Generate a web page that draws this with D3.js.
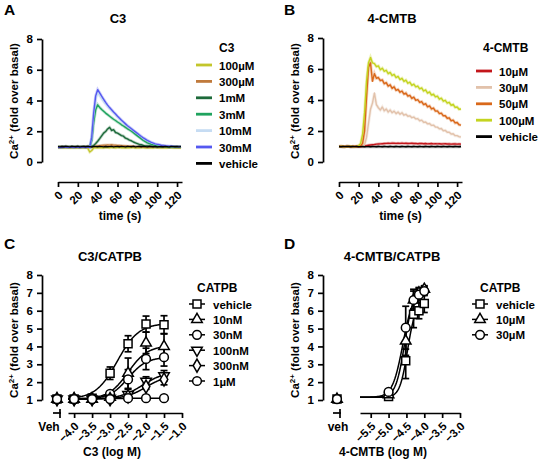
<!DOCTYPE html>
<html><head><meta charset="utf-8">
<script src="https://cdn.jsdelivr.net/npm/d3@7"></script>
<style>
body{margin:0;background:#fff;}
text{font-family:"Liberation Sans",Arial,sans-serif;font-weight:bold;fill:#000;}
</style></head>
<body><svg id="c" width="540" height="463"></svg>
<script>
// ---------- Panel A data (time course, C3) ----------
const timeA = d3.range(0, 125, 2);
const aVehicle = [1.00,0.98,1.01,0.99,1.02,1.00,0.98,1.01,1.00,0.99, 1.02,0.98,1.00,1.01,0.99,1.02,1.00,0.98,1.01,1.00, 0.99,1.02,1.00,0.98,1.01,0.99,1.00,1.02,0.98,1.00, 1.01,0.99,1.02,1.00,0.98,1.01,1.00,0.99,1.02,0.98, 1.00,1.01,0.99,1.02,1.00,0.98,1.01,1.00,0.99,1.02, 0.98,1.00,1.01,0.99,1.02,1.00,0.98,1.01,1.00,0.99, 1.00,0.98,1.00];
const a100uM = [0.93,0.92,0.94,0.93,0.92,0.94,0.93,0.92,0.94,0.93, 0.92,0.94,0.93,0.92,0.94,0.90,0.65,0.75,0.92,0.94, 0.93,0.92,0.94,0.93,0.95,0.94,0.93,0.95,0.94,0.93, 0.94,0.95,0.93,0.94,0.92,0.94,0.93,0.95,0.94,0.93, 0.94,0.93,0.95,0.94,0.93,0.94,0.92,0.94,0.93,0.95, 0.94,0.93,0.94,0.92,0.94,0.93,0.95,0.94,0.93,0.94, 0.93,0.94,0.93];
const a300uM = [0.98,0.99,0.97,0.98,0.99,0.98,0.97,0.99,0.98,0.99, 0.98,0.97,0.99,0.98,0.99,0.98,0.99,1.00,1.01,1.03, 1.05,1.06,1.08,1.09,1.10,1.11,1.10,1.12,1.10,1.09, 1.08,1.07,1.06,1.05,1.04,1.03,1.02,1.02,1.01,1.00, 1.00,0.99,1.00,0.99,0.98,0.99,0.98,0.99,0.98,0.99, 0.98,0.99,0.98,0.97,0.98,0.99,0.98,0.97,0.98,0.99, 0.98,0.97,0.98];
const a1mM = [0.97,0.98,0.97,0.99,0.98,0.97,0.98,0.99,0.97,0.98, 0.98,0.97,0.99,0.98,0.97,0.98,0.99,1.00,1.08,1.20, 1.35,1.52,1.70,1.88,1.98,2.15,2.25,2.05,2.10,1.92, 1.88,1.80,1.72,1.68,1.55,1.50,1.42,1.38,1.30,1.25, 1.20,1.15,1.12,1.08,1.05,1.04,1.02,1.01,1.00,0.99, 1.00,0.99,0.98,0.99,1.00,0.98,0.99,0.98,0.99,0.98, 0.99,0.98,0.99];
const a3mM = [0.96,0.97,0.96,0.98,0.97,0.96,0.97,0.98,0.96,0.97, 0.97,0.96,0.98,0.97,0.96,0.97,0.98,1.40,2.60,3.40, 3.72,3.55,3.42,3.30,3.18,3.08,2.98,2.88,2.78,2.70, 2.60,2.52,2.42,2.34,2.25,2.16,2.08,2.00,1.90,1.80, 1.70,1.60,1.50,1.40,1.32,1.25,1.20,1.15,1.11,1.08, 1.06,1.04,1.03,1.02,1.01,1.00,0.99,1.00,0.99,0.98, 0.99,0.98,0.99];
const a10mM = [0.95,0.96,0.95,0.97,0.96,0.95,0.96,0.97,0.95,0.96, 0.96,0.95,0.97,0.96,0.95,0.96,0.97,1.50,3.00,4.10, 4.50,4.30,4.10,3.92,3.75,3.60,3.45,3.32,3.18,3.05, 2.92,2.80,2.68,2.56,2.45,2.34,2.24,2.14,2.04,1.94, 1.84,1.74,1.64,1.55,1.47,1.40,1.33,1.27,1.22,1.18, 1.14,1.11,1.08,1.06,1.04,1.03,1.02,1.01,1.00,1.00, 0.99,1.00,0.99];
const a30mM = [0.94,0.95,0.94,0.96,0.95,0.94,0.95,0.96,0.94,0.95, 0.95,0.94,0.96,0.95,0.94,0.95,0.96,1.60,3.20,4.30, 4.70,4.50,4.28,4.08,3.88,3.70,3.54,3.40,3.25,3.12, 2.98,2.85,2.72,2.60,2.48,2.36,2.26,2.16,2.06,1.96, 1.86,1.76,1.66,1.57,1.49,1.41,1.34,1.28,1.23,1.18, 1.15,1.12,1.09,1.07,1.05,1.04,1.03,1.02,1.01,1.00, 1.00,0.99,1.00];
const labelsA = ["100µM","300µM","1mM","3mM","10mM","30mM","vehicle"];
const colorsA = ["#c3c62b","#c07a3c","#1d6a3a","#1fa35e","#c6dcf3","#5558f0","#000000"];

// ---------- Panel B data (time course, 4-CMTB) ----------
const timeB = d3.range(0, 125, 2);
const b10uM = [1.00,1.01,0.99,1.00,1.01,1.00,0.99,1.01,1.00,1.00, 1.01,1.00,1.02,1.04,1.06,1.08,1.10,1.12,1.13,1.15, 1.16,1.17,1.18,1.19,1.20,1.21,1.20,1.22,1.21,1.20, 1.21,1.20,1.22,1.20,1.21,1.19,1.20,1.21,1.19,1.20, 1.18,1.19,1.20,1.18,1.19,1.17,1.18,1.19,1.17,1.18, 1.17,1.18,1.16,1.17,1.18,1.16,1.17,1.15,1.16,1.17, 1.15,1.16,1.15];
const b30uM = [1.00,1.01,0.99,1.00,1.01,1.00,0.99,1.00,1.01,1.00, 1.00,1.01,1.03,1.10,1.60,2.50,3.40,3.80,4.45,3.70, 3.50,3.35,3.55,3.30,3.42,3.22,3.35,3.18,3.28,3.12, 3.22,3.08,3.18,3.02,3.08,2.95,2.98,2.86,2.90,2.78, 2.80,2.66,2.70,2.56,2.58,2.46,2.48,2.36,2.38,2.26, 2.25,2.14,2.16,2.02,2.04,1.92,1.92,1.80,1.82,1.70, 1.70,1.63,1.62];
const b50uM = [1.00,1.00,1.01,0.99,1.00,1.01,1.00,0.99,1.00,1.01, 1.00,1.03,1.20,2.00,4.20,6.10,6.40,5.20,5.70,5.40, 5.45,5.25,5.30,5.05,5.12,4.90,4.98,4.75,4.85,4.62, 4.68,4.50,4.58,4.38,4.45,4.25,4.30,4.10,4.18,3.98, 4.02,3.85,3.90,3.70,3.76,3.56,3.62,3.42,3.48,3.28, 3.30,3.12,3.15,2.98,2.98,2.82,2.85,2.66,2.70,2.52, 2.55,2.40,2.38];
const b100uM = [1.00,1.01,1.00,0.99,1.00,1.01,1.00,1.00,0.99,1.01, 1.05,1.20,1.80,3.20,5.20,6.40,6.75,6.40,6.35,6.15, 6.20,5.95,6.05,5.85,5.92,5.70,5.78,5.58,5.65,5.45, 5.52,5.32,5.40,5.20,5.28,5.08,5.15,4.95,5.02,4.85, 4.90,4.72,4.78,4.58,4.65,4.45,4.52,4.32,4.38,4.20, 4.25,4.05,4.12,3.92,3.98,3.80,3.85,3.66,3.72,3.52, 3.55,3.40,3.42];
const bVehicle = [1.00,0.98,1.00,0.99,1.01,1.00,0.98,1.00,0.99,1.00, 0.98,0.99,1.00,0.98,0.99,1.00,0.98,1.00,0.99,0.98, 1.00,0.99,0.98,1.00,0.99,0.98,1.00,0.99,0.98,1.00, 0.99,0.98,1.00,0.99,0.98,1.00,0.99,0.98,1.00,0.99, 0.98,1.00,0.99,0.98,1.00,0.99,0.98,1.00,0.99,0.98, 1.00,0.99,0.98,1.00,0.99,0.98,1.00,0.99,0.98,1.00, 0.99,0.98,1.00];
const labelsB = ["10µM","30µM","50µM","100µM","vehicle"];
const colorsB = ["#c3161b","#e2c2ab","#d9681a","#c4d420","#000000"];

const timeTicks = [0,20,40,60,80,100,120];

// ---------- Panel C data (concentration response, C3 with CATPB) ----------
const logC3 = [-4.0,-3.5,-3.0,-2.5,-2.0,-1.5];
const cVehicle = [1.05,1.10,2.50,4.15,5.25,5.22];
const cVehicleErr = [0.05,0.05,0.35,0.45,0.45,0.50];
const c10nM = [1.05,1.05,1.15,2.50,4.20,4.00];
const c10nMErr = [0.05,0.05,0.10,0.85,0.60,0.70];
const c30nM = [1.05,1.05,1.35,2.15,3.30,3.40];
const c30nMErr = [0.05,0.05,0.10,0.55,0.60,0.50];
const c100nM = [1.05,1.05,1.10,1.30,2.05,2.35];
const c100nMErr = [0.05,0.05,0.05,0.15,0.25,0.30];
const c300nM = [1.05,1.05,1.05,1.20,1.75,2.15];
const c300nMErr = [0.05,0.05,0.05,0.10,0.15,0.30];
const c1uM = [1.05,1.05,1.05,1.10,1.10,1.10];
const c1uMErr = [0.03,0.03,0.03,0.03,0.03,0.03];
const cVehPoint = [1.05,1.05,1.05,1.05,1.05,1.05];
// fitted curve parameters: bottom, top, logEC50, hill
const cFitBottom = [1.05,1.05,1.05,1.05,1.05,1.08];
const cFitTop = [5.30,4.05,3.40,2.60,2.40,1.10];
const cFitEC50 = [-2.80,-2.50,-2.50,-2.10,-2.00,-2.50];
const cFitHill = [1.45,1.60,1.70,1.40,1.50,1.00];
const labelsC = ["vehicle","10nM","30nM","100nM","300nM","1µM"];
const cTicksX = [-4.0,-3.5,-3.0,-2.5,-2.0,-1.5,-1.0];

// ---------- Panel D data (concentration response, 4-CMTB with CATPB) ----------
const logCMTB = [-5.0,-4.52,-4.3,-4.15,-4.0];
const dVehicle = [1.20,3.20,5.80,6.00,6.40];
const dVehicleErr = [0.10,1.00,0.75,0.45,0.50];
const d10uM = [1.30,4.30,6.60,7.00,7.20];
const d10uMErr = [0.10,0.80,0.50,0.30,0.20];
const d30uM = [1.45,5.05,6.60,6.90,7.10];
const d30uMErr = [0.10,1.20,0.60,0.35,0.25];
const dVehPoint = [1.05,1.05,1.05];
const dFitBottom = [1.15,1.15,1.15];
const dFitTop = [6.40,7.20,7.10];
const dFitEC50 = [-4.47,-4.55,-4.60];
const dFitHill = [4.0,3.5,3.0];
const labelsD = ["vehicle","10µM","30µM"];
const dTicksX = [-5.5,-5.0,-4.5,-4.0,-3.5,-3.0];
const yTicksCD = [1,2,3,4,5,6,7,8];

// ---------------- drawing ----------------
const svg = d3.select("#c");
const FONT = 11.5;
const LEG = 11.5;

function txt(g, x, y, s, size, anchor){
  return g.append("text").attr("x",x).attr("y",y).attr("font-size",size).attr("text-anchor",anchor||"start").text(s);
}
function yTitle(x, y){
  const t = svg.append("text").attr("transform",`translate(${x},${y}) rotate(-90)`)
    .attr("text-anchor","middle").attr("font-size",11.5);
  t.append("tspan").text("Ca");
  t.append("tspan").attr("font-size",8).attr("dy",-4).text("2+");
  t.append("tspan").attr("dy",4).text(" (fold over basal)");
}
function yAxis(ys, x, ticks){
  const g = svg.append("g").attr("transform",`translate(${x},0)`)
    .call(d3.axisLeft(ys).tickValues(ticks).tickSize(5).tickSizeOuter(0).tickFormat(d3.format("d")));
  g.select(".domain").attr("stroke-width",1.7);
  g.selectAll(".tick line").attr("stroke-width",1.7);
  g.selectAll(".tick text").attr("font-size",FONT).attr("font-family","Liberation Sans, Arial, sans-serif").attr("font-weight","bold").attr("dx",-1);
  return g;
}
function xAxisRot(xs, y, ticks, fmt){
  const g = svg.append("g").attr("transform",`translate(0,${y})`)
    .call(d3.axisBottom(xs).tickValues(ticks).tickSize(5).tickSizeOuter(0).tickFormat(fmt));
  g.select(".domain").attr("stroke-width",1.7);
  g.selectAll(".tick line").attr("stroke-width",1.7);
  g.selectAll(".tick text").attr("font-size",FONT).attr("font-family","Liberation Sans, Arial, sans-serif").attr("font-weight","bold")
    .attr("text-anchor","end").attr("dy",0).attr("y",0)
    .attr("transform","translate(5,14) rotate(-45)");
  return g;
}

// Panel A & B
function timePanel(px, titleX, letter, title, times, series, colors, labels, legX, legTitle, legTitleX, legY0, xRange, yRange){
  const xs = d3.scaleLinear().domain([0,125]).range(xRange);
  const ys = d3.scaleLinear().domain([0,8]).range(yRange);
  txt(svg, px, 15, letter, 15.5, "start");
  txt(svg, titleX, 23, title, 13, "middle");
  yAxis(ys, xRange[0]-16, [0,2,4,6,8]);
  xAxisRot(xs, 182, timeTicks, d3.format("d"));
  txt(svg, (xRange[0]+xRange[1])/2, 220, "time (s)", 12, "middle");
  yTitle(xRange[0]-40, 101);
  const line = d3.line().x((d,i)=>xs(times[i])).y(d=>ys(d));
  series.forEach((s,k)=>{
    svg.append("path").datum(s).attr("d",line).attr("fill","none").attr("stroke",colors[k]).attr("stroke-width",3).attr("stroke-opacity",0.3);
  });
  series.forEach((s,k)=>{
    svg.append("path").datum(s).attr("d",line).attr("fill","none").attr("stroke",colors[k]).attr("stroke-width",1.4).attr("stroke-linejoin","round");
  });
  txt(svg, legTitleX, 52, legTitle, 12, "start");
  labels.forEach((l,k)=>{
    const y = legY0 + k*16.4;
    svg.append("line").attr("x1",legX-23).attr("x2",legX-7).attr("y1",y).attr("y2",y).attr("stroke",colors[k]).attr("stroke-width",2.8);
    txt(svg, legX, y+4.5, l, LEG, "start");
  });
}
timePanel(4, 118, "A", "C3", timeA, [a100uM,a300uM,a1mM,a3mM,a10mM,a30mM,aVehicle], colorsA, labelsA, 219, "C3", 219, 65, [58,182], [162,39]);
timePanel(284, 392, "B", "4-CMTB", timeB, [b10uM,b30uM,b50uM,b100uM,bVehicle], colorsB, labelsB, 499, "4-CMTB", 483, 71, [339,462], [162,38]);

// symbols
const symSquare = d3.symbol().type(d3.symbolSquare).size(64)();
const symTri = d3.symbol().type(d3.symbolTriangle).size(48)();
const symCircle = d3.symbol().type(d3.symbolCircle).size(60)();
const symDiamond = d3.symbol().type(d3.symbolDiamond).size(50)();
const shapesC = [
  {p:symSquare, r:0},{p:symTri, r:0},{p:symCircle, r:0},{p:symTri, r:180},{p:symDiamond, r:0},{p:symCircle, r:0}
];
function drawSym(g, x, y, s){
  g.append("path").attr("d",s.p).attr("transform",`translate(${x},${y}) rotate(${s.r})`)
    .attr("fill","#fff").attr("stroke","#000").attr("stroke-width",1.5);
}

function dosePanel(opt){
  const xs = d3.scaleLinear().domain(opt.xDomain).range(opt.xRange);
  const ys = d3.scaleLinear().domain([1,8]).range([400,275]);
  txt(svg, opt.px, 249, opt.letter, 15.5, "start");
  txt(svg, opt.titleX, 261, opt.title, 13, "middle");
  yAxis(ys, opt.yAxisX, yTicksCD);
  yTitle(opt.yAxisX-24, 340);
  xAxisRot(xs, 413, opt.ticks, d3.format(".1f"));
  // veh break axis
  const vx = opt.vehX;
  svg.append("line").attr("x1",vx-4).attr("x2",vx+4).attr("y1",413).attr("y2",413).attr("stroke","#000").attr("stroke-width",1.7);
  svg.append("line").attr("x1",vx+3).attr("x2",vx+3).attr("y1",409).attr("y2",418).attr("stroke","#000").attr("stroke-width",1.7);
  txt(svg, opt.vehLabelX, 431, opt.vehLabel, 12, "middle");
  txt(svg, opt.xTitleX, 456, opt.xTitle, 12, "middle");
  // fits
  const xf = d3.range(opt.xDomain[0], opt.fitEnd+0.0001, 0.02);
  opt.fitTop.forEach((top,k)=>{
    const b = opt.fitBottom[k], e = opt.fitEC50[k], h = opt.fitHill[k];
    const line = d3.line().x(d=>xs(d)).y(d=>ys(b + (top-b)/(1+Math.pow(10,(e-d)*h))));
    svg.append("path").datum(xf).attr("d",line).attr("fill","none").attr("stroke","#000").attr("stroke-width",1.5);
  });
  // error bars + symbols
  const g = svg.append("g");
  opt.series.forEach((s,k)=>{
    s.forEach((v,i)=>{
      const x = xs(opt.xVals[i]), e = opt.errs[k][i];
      if (e > 0.12){
        g.append("line").attr("x1",x).attr("x2",x).attr("y1",ys(v-e)).attr("y2",ys(v+e)).attr("stroke","#000").attr("stroke-width",1.7);
        [v-e,v+e].forEach(w=>g.append("line").attr("x1",x-3.5).attr("x2",x+3.5).attr("y1",ys(w)).attr("y2",ys(w)).attr("stroke","#000").attr("stroke-width",1.7));
      }
    });
  });
  opt.series.forEach((s,k)=>{
    s.forEach((v,i)=>drawSym(g, xs(opt.xVals[i]), ys(v), opt.shapes[k]));
  });
  opt.vehPoints.forEach((v,k)=>drawSym(g, vx, ys(v), opt.shapes[k]));
  // legend
  txt(svg, opt.legX+2, 292, "CATPB", 12, "start");
  opt.labels.forEach((l,k)=>{
    const y = 304 + k*15.4;
    svg.append("line").attr("x1",opt.legX-6).attr("x2",opt.legX+10).attr("y1",y).attr("y2",y).attr("stroke","#000").attr("stroke-width",1.5);
    drawSym(svg, opt.legX+2, y, opt.shapes[k]);
    txt(svg, opt.legX+18, y+4.5, l, LEG, "start");
  });
}
dosePanel({px:4, letter:"C", title:"C3/CATPB", titleX:110, xDomain:[-4.17,-1.0], xRange:[68,182], yAxisX:42,
  ticks:cTicksX, vehX:57, vehLabel:"Veh", vehLabelX:49, xTitle:"C3 (log M)", xTitleX:112, fitEnd:-1.5,
  fitBottom:cFitBottom, fitTop:cFitTop, fitEC50:cFitEC50, fitHill:cFitHill,
  xVals:logC3, series:[cVehicle,c10nM,c30nM,c100nM,c300nM,c1uM], errs:[cVehicleErr,c10nMErr,c30nMErr,c100nMErr,c300nMErr,c1uMErr],
  shapes:shapesC, vehPoints:cVehPoint, labels:labelsC, legX:195});
dosePanel({px:284, letter:"D", title:"4-CMTB/CATPB", titleX:392, xDomain:[-5.8,-3.0], xRange:[360,460], yAxisX:323,
  ticks:dTicksX, vehX:337, vehLabel:"veh", vehLabelX:338, xTitle:"4-CMTB (log M)", xTitleX:383, fitEnd:-4.0,
  fitBottom:dFitBottom, fitTop:dFitTop, fitEC50:dFitEC50, fitHill:dFitHill,
  xVals:logCMTB, series:[dVehicle,d10uM,d30uM], errs:[dVehicleErr,d10uMErr,d30uMErr],
  shapes:[shapesC[0],shapesC[1],shapesC[2]], vehPoints:dVehPoint, labels:labelsD, legX:478});
</script></body></html>
